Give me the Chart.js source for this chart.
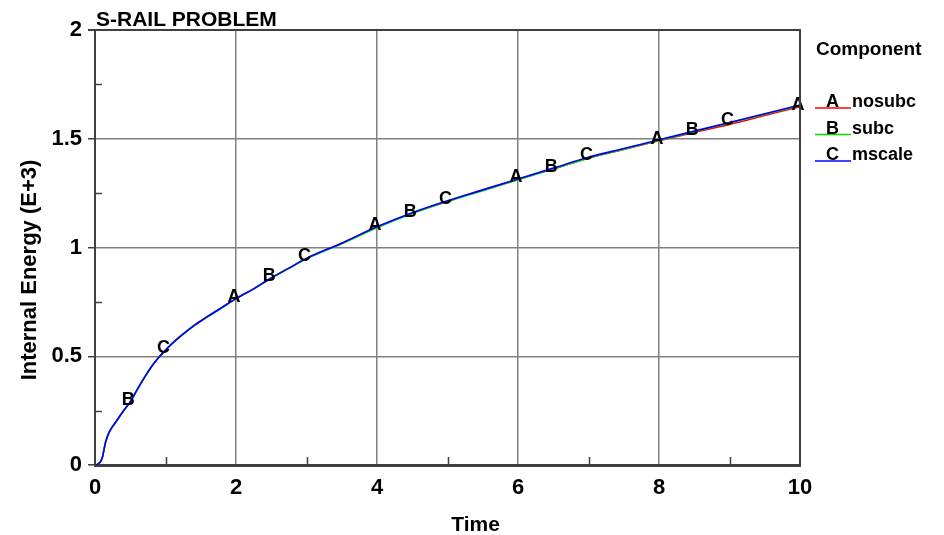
<!DOCTYPE html>
<html>
<head>
<meta charset="utf-8">
<script src="https://cdn.jsdelivr.net/npm/chart.js@4.4.1/dist/chart.umd.min.js"></script>
<style>
html,body{margin:0;padding:0;background:#fff;}
#wrap{width:944px;height:535px;position:relative;}
</style>
</head>
<body>
<div id="wrap"><canvas id="c" width="944" height="535"></canvas></div>
<script>
// ---- data ----
const chartTitle = "S-RAIL PROBLEM";
const xTitle = "Time";
const yTitle = "Internal Energy (E+3)";
const legendTitle = "Component";
const times  = [0, 0.05, 0.1, 0.15, 0.2, 0.3, 0.4, 0.5, 0.6, 0.7, 0.8, 0.9, 1.0, 1.1, 1.2, 1.4, 1.6, 1.8, 2.0, 2.25, 2.5, 2.75, 3.0, 3.5, 4.0, 4.5, 5.0, 5.5, 6.0, 6.5, 7.0, 7.5, 8.0, 8.5, 9.0, 9.5, 10.0];
const nosubc = [0, 0.006, 0.03, 0.105, 0.15, 0.2, 0.247, 0.29, 0.347, 0.402, 0.451, 0.493, 0.528, 0.561, 0.589, 0.641, 0.684, 0.725, 0.765, 0.81, 0.86, 0.905, 0.95, 1.02, 1.094, 1.158, 1.213, 1.264, 1.313, 1.362, 1.411, 1.451, 1.491, 1.529, 1.566, 1.607, 1.648];
const subc   = [0, 0.005, 0.03, 0.104, 0.15, 0.2, 0.247, 0.29, 0.348, 0.401, 0.452, 0.493, 0.527, 0.56, 0.588, 0.639, 0.682, 0.723, 0.765, 0.81, 0.86, 0.904, 0.948, 1.017, 1.091, 1.156, 1.211, 1.261, 1.311, 1.361, 1.411, 1.452, 1.492, 1.533, 1.573, 1.613, 1.653];
const mscale = [0, 0.005, 0.03, 0.105, 0.15, 0.2, 0.247, 0.29, 0.348, 0.402, 0.452, 0.493, 0.528, 0.56, 0.589, 0.64, 0.683, 0.724, 0.765, 0.81, 0.86, 0.905, 0.95, 1.02, 1.095, 1.16, 1.215, 1.265, 1.315, 1.365, 1.415, 1.455, 1.495, 1.535, 1.575, 1.615, 1.655];
const seriesNames = ["nosubc", "subc", "mscale"];
const seriesLetters = ["A", "B", "C"];
const seriesColors = ["#ff0000", "#00e000", "#0000ff"];
// times at which each series' letter symbol is drawn
const markerTimes = [[2, 4, 6, 8, 10], [0.5, 2.5, 4.5, 6.5, 8.5], [1, 3, 5, 7, 9]];
const xTicks = [0, 2, 4, 6, 8, 10];
const yTicks = [0, 0.5, 1, 1.5, 2];
const yTickLabels = ["0", "0.5", "1", "1.5", "2"];
const xMinor = [1, 3, 5, 7, 9];
const yMinor = [0.25, 0.75, 1.25, 1.75];

const seriesValues = [nosubc, subc, mscale];
const FONT = "'Liberation Sans', Arial, Helvetica, sans-serif";

const datasets = seriesValues.map((vals, i) => ({
  label: seriesNames[i],
  data: times.map((t, k) => ({x: t, y: vals[k]})),
  borderColor: seriesColors[i],
  borderWidth: 1.6,
  pointRadius: 0,
  cubicInterpolationMode: 'monotone',
  fill: false,
  order: seriesValues.length - i,
  markerTimes: markerTimes[i],
  letter: seriesLetters[i]
}));

const deco = {
  id: 'deco',
  afterDatasetsDraw(chart) {
    const ctx = chart.ctx;
    ctx.save();
    ctx.fillStyle = '#000';
    ctx.font = "bold 18px " + FONT;
    ctx.textAlign = 'center';
    ctx.textBaseline = 'middle';
    chart.data.datasets.forEach((ds, di) => {
      ds.markerTimes.forEach(t => {
        const idx = times.indexOf(t);
        if (idx < 0) return;
        const pt = chart.getDatasetMeta(di).data[idx];
        ctx.fillText(ds.letter, pt.x - 2, pt.y - 2);
      });
    });
    ctx.restore();
  },
  afterDraw(chart) {
    const ctx = chart.ctx;
    const a = chart.chartArea;
    const xs = chart.scales.x, ys = chart.scales.y;
    ctx.save();
    // frame top & right
    ctx.strokeStyle = '#404040';
    ctx.lineWidth = 2;
    ctx.beginPath();
    ctx.moveTo(a.left - 7, a.top);
    ctx.lineTo(a.right, a.top);
    ctx.lineTo(a.right, a.bottom + 2);
    ctx.stroke();
    // minor ticks
    ctx.lineWidth = 1.5;
    ctx.beginPath();
    xMinor.forEach(v => {
      const px = Math.round(xs.getPixelForValue(v)) + 0.5;
      ctx.moveTo(px, a.bottom);
      ctx.lineTo(px, a.bottom - 8);
    });
    yMinor.forEach(v => {
      const py = Math.round(ys.getPixelForValue(v)) + 0.5;
      ctx.moveTo(a.left, py);
      ctx.lineTo(a.left + 7, py);
    });
    ctx.stroke();
    // title
    ctx.fillStyle = '#000';
    ctx.textAlign = 'left';
    ctx.textBaseline = 'alphabetic';
    ctx.font = "bold 21px " + FONT;
    ctx.fillText(chartTitle, a.left + 1, 26);
    // x title
    ctx.textAlign = 'center';
    ctx.font = "bold 21px " + FONT;
    ctx.fillText(xTitle, (a.left + a.right) / 2 + 28, 531);
    // y title
    ctx.save();
    ctx.translate(36, 270);
    ctx.rotate(-Math.PI / 2);
    ctx.font = "bold 22px " + FONT;
    ctx.fillText(yTitle, 0, 0);
    ctx.restore();
    // legend
    ctx.textAlign = 'left';
    ctx.font = "bold 19px " + FONT;
    ctx.fillText(legendTitle, 816, 55);
    ctx.font = "bold 18px " + FONT;
    seriesNames.forEach((n, i) => {
      const base = 107 + i * 26.5;
      ctx.strokeStyle = seriesColors[i];
      ctx.lineWidth = 1.6;
      ctx.beginPath();
      ctx.moveTo(815, base + 1);
      ctx.lineTo(851, base + 1);
      ctx.stroke();
      ctx.fillStyle = '#000';
      ctx.fillText(seriesLetters[i], 826, base);
      ctx.fillText(n, 852, base);
    });
    ctx.restore();
  }
};

new Chart(document.getElementById('c'), {
  type: 'line',
  data: { datasets },
  options: {
    responsive: false,
    animation: false,
    devicePixelRatio: 1,
    layout: { padding: { left: 0, right: 144, top: 30, bottom: 0 } },
    plugins: { legend: { display: false }, tooltip: { enabled: false }, title: { display: false } },
    scales: {
      x: {
        type: 'linear', min: 0, max: 10,
        afterFit(s) { s.height = 70; },
        afterBuildTicks(s) { s.ticks = xTicks.map(v => ({value: v})); },
        ticks: { color: '#000', font: { family: FONT, weight: 'bold', size: 22 }, padding: 10, maxRotation: 0 },
        grid: { color: '#808080', lineWidth: 1.5, drawTicks: false, tickLength: 0 },
        border: { display: true, color: '#404040', width: 3 }
      },
      y: {
        type: 'linear', min: 0, max: 2,
        afterFit(s) { s.width = 95; },
        afterBuildTicks(s) { s.ticks = yTicks.map(v => ({value: v})); },
        ticks: {
          color: '#000', font: { family: FONT, weight: 'bold', size: 22 }, padding: 6,
          callback: (v) => { const i = yTicks.indexOf(v); return i >= 0 ? yTickLabels[i] : ''; }
        },
        grid: { color: '#808080', lineWidth: 1.5, tickLength: 7, tickColor: '#404040' },
        border: { display: true, color: '#404040', width: 2 }
      }
    }
  },
  plugins: [deco]
});
</script>
</body>
</html>
